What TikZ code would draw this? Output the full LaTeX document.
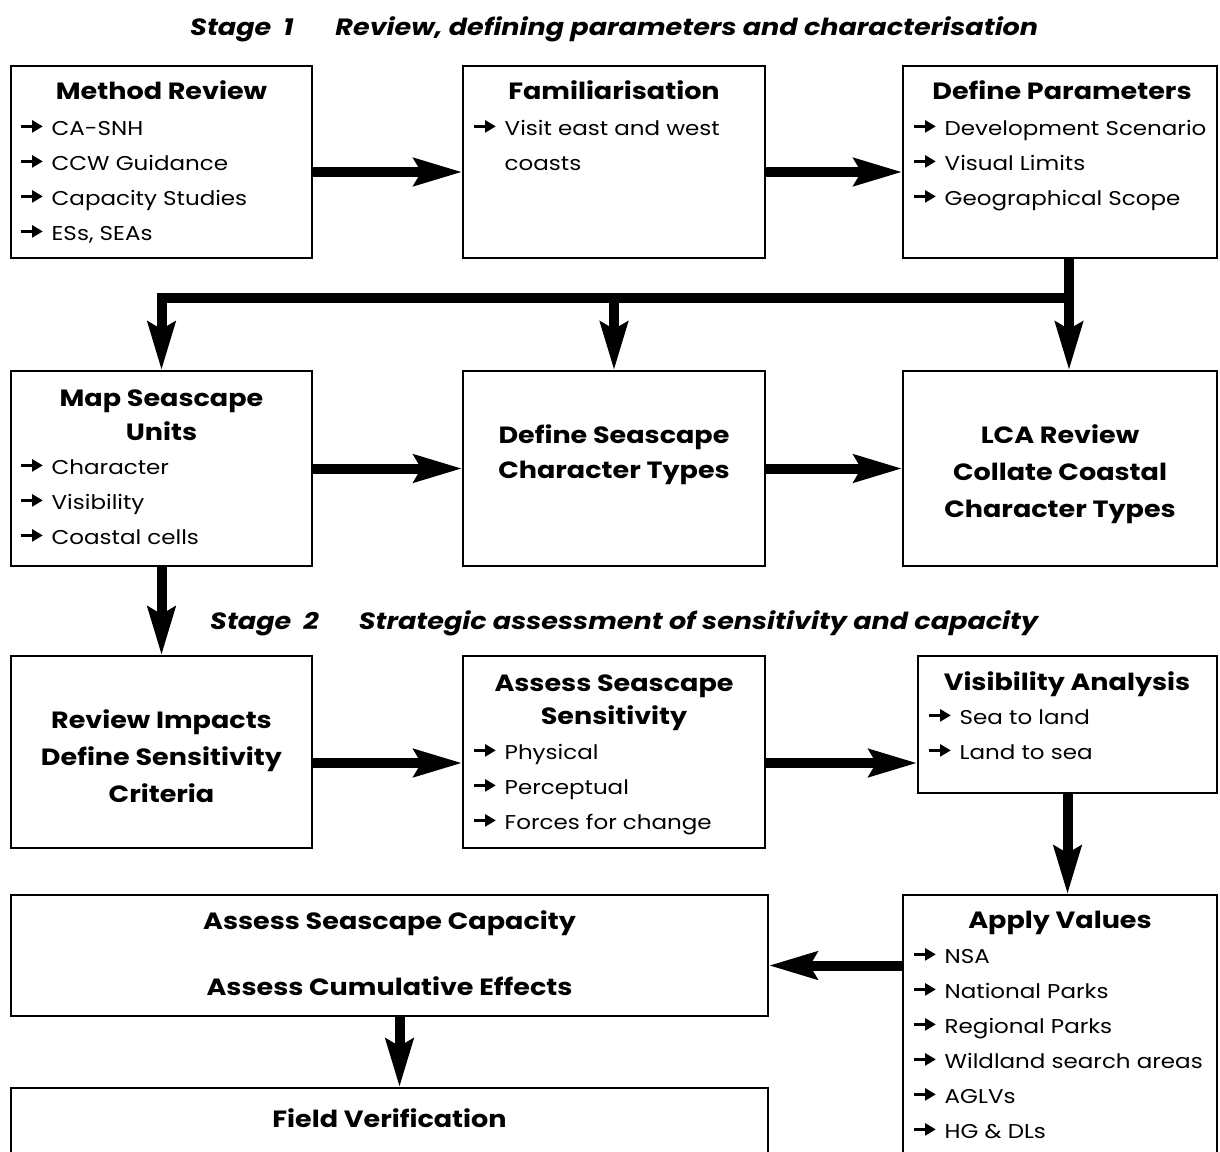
\documentclass[tikz,border=0pt]{standalone}
\usepackage{fontspec}
\setmainfont{Poppins}[FakeStretch=1.15]
\usetikzlibrary{arrows.meta,positioning}

\newcommand{\itm}{\tikz[baseline=0pt,x=1pt,y=1pt]{\fill (0,7.3) rectangle (12,9.9); \fill (11,2.3) -- (21.5,8.6) -- (11,14.9) -- cycle;}\hspace{9pt}}

\begin{document}
\begin{tikzpicture}[x=1pt,y=-1pt,
  box/.style 2 args={draw,line width=1.3pt,inner sep=0pt,minimum width=#1pt,minimum height=#2pt},
  flow/.style={line width=10pt,-{Stealth[length=48pt,width=27pt,inset=7pt]}},
  head/.style={font=\bfseries\fontsize{23.5}{37}\selectfont,align=center,inner sep=0pt,anchor=base},
  list/.style={font=\fontsize{20}{35}\selectfont,align=left,inner sep=0pt,anchor=base west},
  stage/.style={font=\bfseries\itshape\fontsize{23.5}{25}\selectfont,inner sep=0pt,anchor=base west}]

\clip (0,0) rectangle (1220,1151);

\node[stage] (s1) at (190,35) {Stage\hspace{12pt}1\hspace{42pt}Review, defining parameters and characterisation};
\node[stage] (s2) at (210,629) {Stage\hspace{12pt}2\hspace{40pt}Strategic assessment of sensitivity and capacity};

\node[box={301}{192}] (mr)   at (161.5,162) {};
\node[box={302}{192}] (fam)  at (614,162)   {};
\node[box={314}{192}] (dp)   at (1060,162)  {};
\node[box={301}{195}] (ms)   at (161.5,468.5) {};
\node[box={302}{195}] (dsct) at (614,468.5) {};
\node[box={314}{195}] (lca)  at (1060,468.5) {};
\node[box={301}{192}] (ri)   at (161.5,752) {};
\node[box={302}{192}] (ass)  at (614,752)   {};
\node[box={299}{137}] (va)   at (1067.5,724.5) {};
\node[box={757}{121}] (cap)  at (389.5,955.5) {};
\node[box={314}{310}] (av)   at (1060,1050) {};
\node[box={757}{124}] (fv)   at (389.5,1150) {};

\node[head] (mrT) at (161.5,99) {Method Review};
\node[list] (mrL) at (21,240) {\itm CA-SNH\\\itm CCW Guidance\\\itm Capacity Studies\\\itm ESs, SEAs};
\node[head] (famT) at (614,99) {Familiarisation};
\node[list] (famL) at (474,170) {\itm Visit east and west\\\phantom{\itm}coasts};
\node[head] (dpT) at (1062,99) {Define Parameters};
\node[list] (dpL) at (914,205) {\itm Development Scenario\\\itm Visual Limits\\\itm Geographical Scope};

\node[head] (msT) at (161.5,440) {Map Seascape\\[-3pt]Units};
\node[list] (msL) at (21,544) {\itm Character\\\itm Visibility\\\itm Coastal cells};
\node[head] (dsctT) at (614,478) {Define Seascape\\[-2pt]Character Types};
\node[head] (lcaT) at (1060,517) {LCA Review\\Collate Coastal\\Character Types};

\node[head] (riT) at (161.5,802) {Review Impacts\\Define Sensitivity\\Criteria};
\node[head] (assT) at (614,724) {Assess Seascape\\[-4pt]Sensitivity};
\node[list] (assL) at (474,829) {\itm Physical\\\itm Perceptual\\\itm Forces for change};
\node[head] (vaT) at (1067,690) {Visibility Analysis};
\node[list] (vaL) at (929,759) {\itm Sea to land\\\itm Land to sea};

\node[head] (capT) at (389.5,995) {Assess Seascape Capacity\\[29pt]Assess Cumulative Effects};
\node[head] (avT) at (1060,928) {Apply Values};
\node[list] (avL) at (914,1138) {\itm NSA\\\itm National Parks\\\itm Regional Parks\\\itm Wildland search areas\\\itm AGLVs\\\itm HG \& DLs};
\node[head] (fvT) at (389.5,1127) {Field Verification};

\draw[flow] ([yshift=-10pt]mr.east) -- ([yshift=-10pt]fam.west);
\draw[flow] ([yshift=-10pt]fam.east) -- ([yshift=-10pt]dp.west);
\draw[flow] ([xshift=9pt]dp.south) -- ([xshift=9pt]lca.north);
\coordinate (bus) at (1069,298);
\draw[flow] (bus) -| (ms.north);
\draw[flow] (bus -| dsct.north) -- (dsct.north);
\draw[flow] (ms.east) -- (dsct.west);
\draw[flow] (dsct.east) -- (lca.west);
\draw[flow] (ms.south) -- (ri.north);
\draw[flow] ([yshift=-11pt]ri.east) -- ([yshift=-11pt]ass.west);
\draw[flow] ([yshift=-11pt]ass.east) -- ([yshift=-11pt]ass.east -| va.west);
\draw[flow] (va.south) -- (va.south |- av.north);
\draw[flow] ([yshift=-10pt]cap.east -| av.west) -- ([yshift=-10pt]cap.east);
\draw[flow] ([xshift=10pt]cap.south) -- ([xshift=10pt]fv.north);
\end{tikzpicture}
\end{document}
